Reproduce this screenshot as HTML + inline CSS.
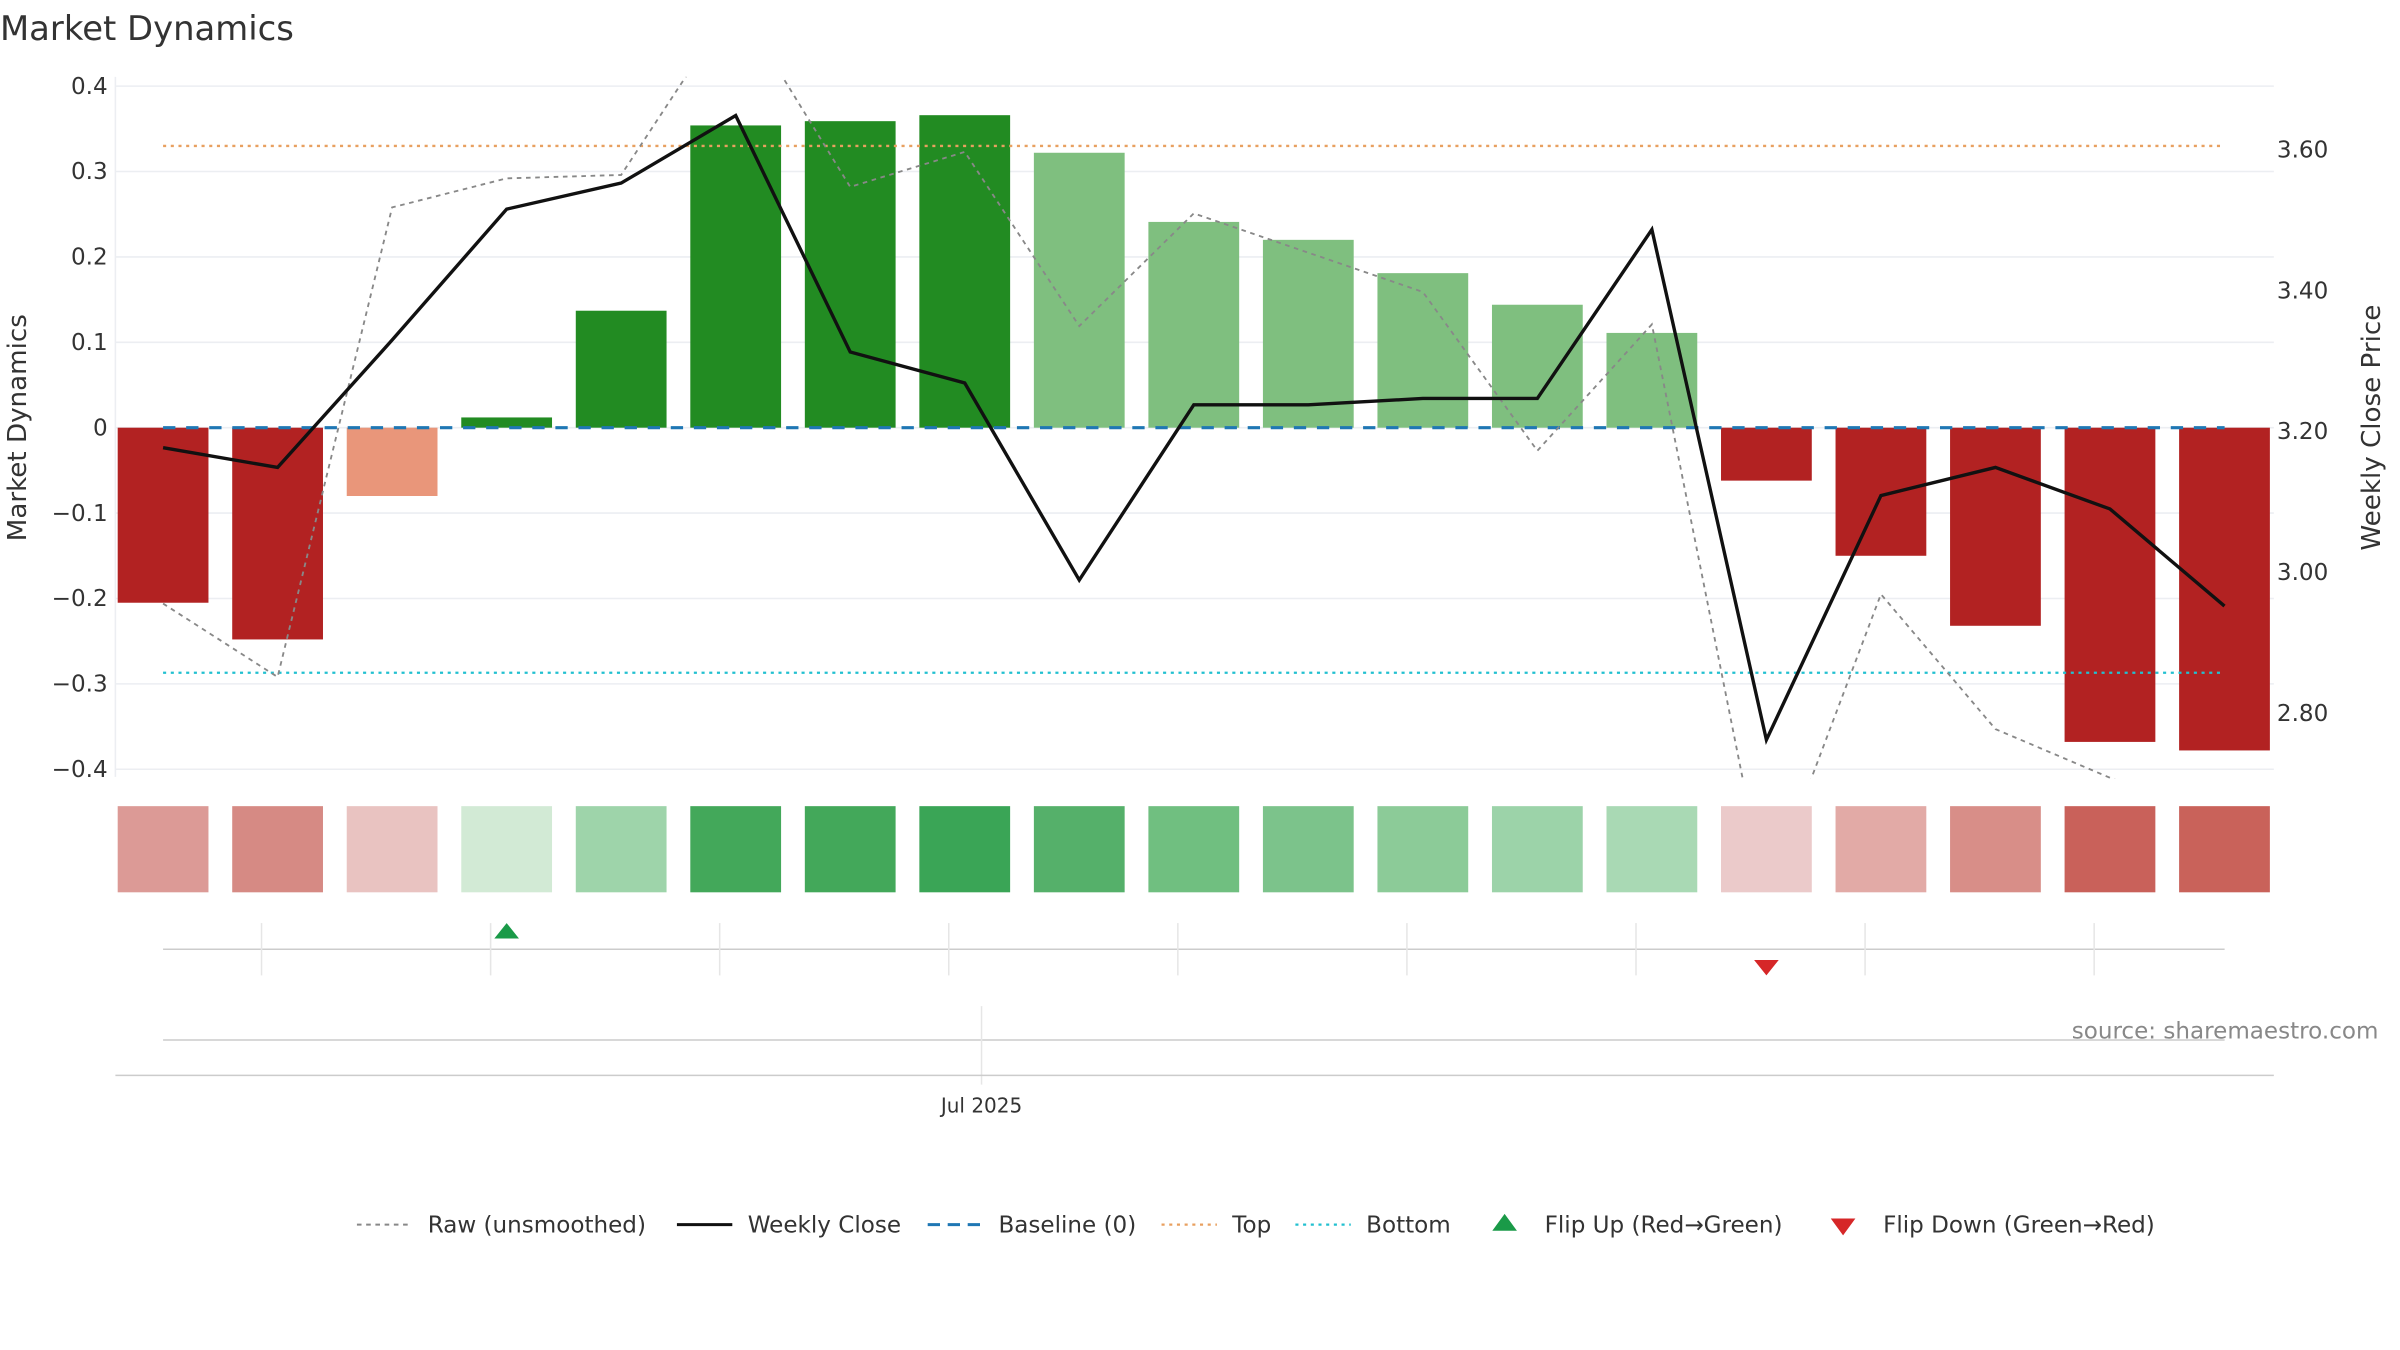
<!DOCTYPE html>
<html><head><meta charset="utf-8"><style>
html,body{margin:0;padding:0;background:#fff;}
svg{display:block;font-family:"DejaVu Sans","Liberation Sans",sans-serif;}
</style></head><body>
<svg id="chart" width="2400" height="1350" viewBox="0 0 1560 877.5" xmlns="http://www.w3.org/2000/svg">
<text x="0" y="26" font-size="22" fill="#333">Market Dynamics</text>
<g id="grid"></g>
<g id="marks"></g>
<text transform="translate(17,278) rotate(-90)" text-anchor="middle" font-size="17" fill="#333">Market Dynamics</text>
<text transform="translate(1547,278) rotate(-90)" text-anchor="middle" font-size="17" fill="#333">Weekly Close Price</text>
<text x="1546" y="675" text-anchor="end" font-size="15" fill="#888">source: sharemaestro.com</text>
<text x="638" y="723" text-anchor="middle" font-size="13" fill="#333">Jul 2025</text>
<g id="legend" font-size="15" fill="#333">
<line x1="232" y1="796" x2="268" y2="796" stroke="#888" stroke-dasharray="3,3" stroke-width="1.3"/><text x="278" y="801">Raw (unsmoothed)</text>
<line x1="440" y1="796" x2="476" y2="796" stroke="#111" stroke-width="2"/><text x="486" y="801">Weekly Close</text>
<line x1="603" y1="796" x2="639" y2="796" stroke="#1f77b4" stroke-dasharray="8,5" stroke-width="2"/><text x="649" y="801">Baseline (0)</text>
<line x1="755" y1="796" x2="791" y2="796" stroke="#e8a060" stroke-dasharray="2,3" stroke-width="1.5"/><text x="801" y="801">Top</text>
<line x1="842" y1="796" x2="878" y2="796" stroke="#22c0d0" stroke-dasharray="2,3" stroke-width="1.5"/><text x="888" y="801">Bottom</text>
<polygon points="970,800 986,800 978,789" fill="#1a9a48"/><text x="1004" y="801">Flip Up (Red→Green)</text>
<polygon points="1190,792 1206,792 1198,803" fill="#d62728"/><text x="1224" y="801">Flip Down (Green→Red)</text>
</g>
</svg>
<script>
const dynValues=[-0.205,-0.248,-0.08,0.012,0.137,0.354,0.359,0.366,0.322,0.241,0.22,0.181,0.144,0.111,-0.062,-0.15,-0.232,-0.368,-0.378];
const barStrength=[1,1,0,1,1,1,1,1,0,0,0,0,0,0,1,1,1,1,1];
const closeValues=[3.177,3.149,3.33,3.516,3.553,3.649,3.313,3.269,2.989,3.238,3.238,3.247,3.247,3.487,2.762,3.109,3.149,3.090,2.952];
const rawValues=[-0.206,-0.292,0.258,0.292,0.296,0.5,0.282,0.323,0.119,0.251,0.205,0.159,-0.027,0.121,-0.55,-0.195,-0.353,-0.41,-0.45];
const heatColors=["#dc9a96","#d68a84","#e9c3c1","#d2ead5","#9ed4aa","#43a85a","#43a85a","#3aa556","#55b06a","#70bf80","#7cc38b","#8ccb98","#9cd3a9","#a9d9b4","#ebcaca","#e2aaa6","#d88e88","#c9615a","#c9625a"];
const leftTicks=[0.4,0.3,0.2,0.1,0,-0.1,-0.2,-0.3,-0.4];
const rightTicks=[3.6,3.4,3.2,3.0,2.8];
const topLevel=0.33, bottomLevel=-0.287;
const flipUpIdx=[3], flipDownIdx=[14];

const NS="http://www.w3.org/2000/svg";
const xL=75,xR=1478;
const x=i=>106+i*74.44;
const y=v=>278-v*555;
const y2=p=>280.5-(p-3.2)/0.2*91.5;
function mk(tag,attrs,parent){const e=document.createElementNS(NS,tag);for(const k in attrs)e.setAttribute(k,attrs[k]);parent.appendChild(e);return e;}
const grid=document.getElementById('grid'),marks=document.getElementById('marks'),svg=document.getElementById('chart');
// clip
const defs=mk('defs',{},svg);const cp=mk('clipPath',{id:'pc'},defs);mk('rect',{x:xL,y:50,width:xR-xL,height:456},cp);
leftTicks.forEach(t=>{
 const l=mk('line',{x1:xL,x2:xR,y1:y(t),y2:y(t),stroke:'#eceef2','stroke-width':1},grid);
 
 
 const tx=mk('text',{x:70,y:y(t)+5,'text-anchor':'end','font-size':15,fill:'#333'},grid);
 tx.textContent=t===0?'0':t.toFixed(1).replace('-','−');
 
 
});
rightTicks.forEach(t=>{
 const tx=mk('text',{x:1480,y:y2(t)+5,'font-size':15,fill:'#333'},grid);
 tx.textContent=t.toFixed(2);
 
 
});
mk('line',{x1:xL,x2:xL,y1:50,y2:505,stroke:'#eceef2'},grid);
const bw=59;
dynValues.forEach((v,i)=>{
 const col=v>=0?(barStrength[i]?'#228b22':'#7fbf7f'):(barStrength[i]?'#b22222':'#e9967a');
 const r=mk('rect',{x:x(i)-bw/2,y:Math.min(y(v),y(0)),width:bw,height:Math.abs(y(v)-y(0)),fill:col},marks);
 
 
 const h=mk('rect',{x:x(i)-bw/2,y:524,width:bw,height:56,fill:heatColors[i]},marks);
 
 
});
const g=mk('g',{'clip-path':'url(#pc)'},marks);
const l0=mk('line',{x1:106,x2:1446,y1:y(0),y2:y(0),stroke:'#1f77b4','stroke-width':2,'stroke-dasharray':'8,7'},g);


const lt=mk('line',{x1:106,x2:1446,y1:y(topLevel),y2:y(topLevel),stroke:'#e8a060','stroke-width':1.5,'stroke-dasharray':'2,3'},g);


const lb=mk('line',{x1:106,x2:1446,y1:y(bottomLevel),y2:y(bottomLevel),stroke:'#22c0d0','stroke-width':1.5,'stroke-dasharray':'2,3'},g);


const raw=mk('polyline',{points:rawValues.map((v,i)=>x(i)+','+y(v)).join(' '),fill:'none',stroke:'#888','stroke-width':1.2,'stroke-dasharray':'3,3'},g);


const cl=mk('polyline',{points:closeValues.map((v,i)=>x(i)+','+y2(v)).join(' '),fill:'none',stroke:'#111','stroke-width':2.2},marks);


// flip row
mk('line',{x1:106,x2:1446,y1:617,y2:617,stroke:'#ccc'},marks);
for(let k=0;k<9;k++){const xx=170+k*148.9;mk('line',{x1:xx,x2:xx,y1:600,y2:634,stroke:'#e6e6e6'},marks);}
flipUpIdx.forEach(i=>{const p=mk('polygon',{points:`${x(i)-8},610 ${x(i)+8},610 ${x(i)},600`,fill:'#1a9a48'},marks);
 
 });
flipDownIdx.forEach(i=>{const p=mk('polygon',{points:`${x(i)-8},624 ${x(i)+8},624 ${x(i)},634`,fill:'#d62728'},marks);
 
 });
mk('line',{x1:106,x2:1446,y1:676,y2:676,stroke:'#ccc'},marks);
mk('line',{x1:638,x2:638,y1:654,y2:705,stroke:'#e6e6e6'},marks);
const ax=mk('line',{x1:xL,x2:xR,y1:699,y2:699,stroke:'#ccc'},marks);


</script>
</body></html>
